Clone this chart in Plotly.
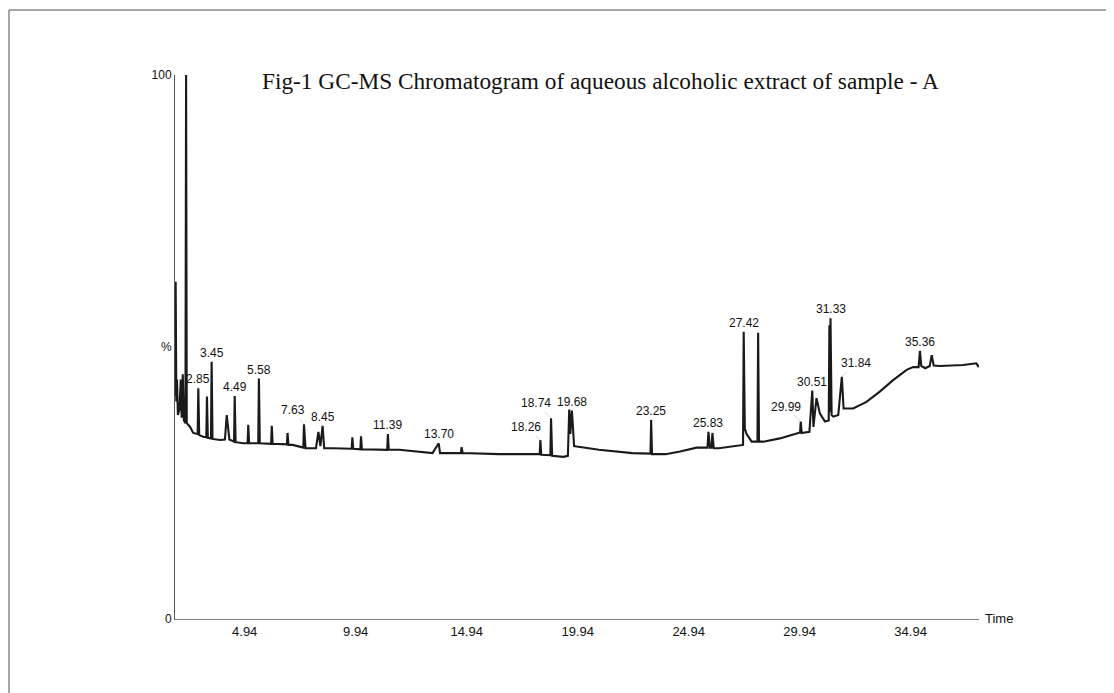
import plotly.graph_objects as go

# ---- data ----
trace_time = [
    1.80, 1.83, 1.86, 1.89, 1.93, 2.00, 2.06, 2.10, 2.15, 2.20, 2.27, 2.30, 2.33, 2.48, 2.62,
    2.82, 2.85, 2.89, 3.07, 3.21, 3.24, 3.28, 3.42, 3.45, 3.49, 3.83, 4.05, 4.13, 4.25, 4.46,
    4.49, 4.53, 4.88, 5.07, 5.10, 5.14, 5.55, 5.58, 5.62, 5.93, 6.13, 6.16, 6.20, 6.84, 6.87,
    6.91, 7.10, 7.58, 7.61, 7.68, 8.15, 8.26, 8.35, 8.45, 8.52, 8.90, 9.76, 9.79, 9.83, 10.15,
    10.18, 10.22, 11.36, 11.39, 11.43, 11.90, 13.40, 13.68, 13.74, 14.68, 14.71, 14.76, 16.40, 17.90,
    18.23, 18.26, 18.30, 18.71, 18.74, 18.79, 19.30, 19.50, 19.56, 19.61, 19.68, 19.78, 19.90, 20.90,
    22.40, 23.22, 23.25, 23.29, 23.90, 24.55, 25.30, 25.79, 25.83, 25.90, 25.97, 26.01, 26.07, 26.30,
    27.20, 27.39, 27.42, 27.47, 27.55, 27.78, 28.04, 28.07, 28.11, 28.30, 29.05, 29.80, 29.96, 29.99,
    30.03, 30.38, 30.51, 30.56, 30.70, 30.85, 31.08, 31.25, 31.28, 31.30, 31.33, 31.38, 31.46, 31.68,
    31.84, 31.92, 32.35, 32.95, 33.55, 34.15, 34.76, 35.05, 35.30, 35.36, 35.42, 35.60, 35.80, 35.89,
    35.98, 36.26, 37.30, 37.90, 38.01,
]
trace_pct = [
    41.0, 62.0, 40.0, 44.0, 37.5, 38.5, 44.0, 37.0, 45.0, 36.5, 36.0, 100.0, 36.0, 35.3, 34.2,
    34.0, 42.4, 33.8, 33.5, 33.4, 40.9, 33.3, 33.2, 47.3, 33.1, 32.9, 33.0, 37.5, 33.0, 32.6,
    41.0, 32.5, 32.3, 32.3, 35.7, 32.3, 32.3, 44.2, 32.3, 32.3, 32.2, 35.5, 32.2, 32.1, 34.2,
    32.0, 32.0, 31.5, 35.8, 31.4, 31.4, 34.4, 31.8, 35.5, 31.4, 31.4, 31.3, 33.4, 31.3, 31.2,
    33.6, 31.2, 31.1, 34.0, 31.1, 31.1, 30.5, 32.3, 30.5, 30.5, 31.6, 30.5, 30.3, 30.3,
    30.3, 32.9, 30.2, 30.1, 36.9, 30.0, 29.8, 30.0, 38.5, 34.0, 38.3, 31.8, 31.7, 31.1,
    30.5, 30.4, 36.6, 30.3, 30.3, 30.8, 31.5, 31.5, 34.4, 31.5, 31.5, 34.2, 31.4, 31.4,
    32.0, 32.0, 52.8, 35.0, 34.0, 32.6, 32.6, 52.6, 32.6, 32.6, 33.2, 34.1, 34.3, 36.3,
    34.2, 34.4, 42.0, 35.3, 40.6, 37.8, 36.3, 36.5, 54.0, 38.0, 55.3, 37.5, 37.2, 37.5,
    44.5, 38.7, 38.7, 39.9, 41.8, 43.9, 45.8, 46.3, 46.3, 49.3, 46.5, 46.1, 46.5, 48.5,
    46.6, 46.5, 46.7, 47.0, 46.3,
]

peak_labels = ["2.85", "3.45", "4.49", "5.58", "7.63", "8.45", "11.39", "13.70", "18.26", "18.74",
               "19.68", "23.25", "25.83", "27.42", "29.99", "30.51", "31.33", "31.84", "35.36"]
peak_time = [2.85, 3.45, 4.49, 5.58, 7.61, 8.45, 11.39, 13.68, 18.26, 18.74,
             19.68, 23.25, 25.83, 27.42, 29.99, 30.51, 31.33, 31.84, 35.36]
peak_pct = [42.4, 47.3, 41.0, 44.2, 35.8, 35.5, 34.0, 32.3, 32.9, 36.9,
            38.3, 36.6, 34.4, 52.8, 36.3, 42.0, 55.3, 44.5, 49.3]

x_tick_vals = [4.94, 9.94, 14.94, 19.94, 24.94, 29.94, 34.94]
y_tick_vals = [0, 50, 100]
y_tick_text = ["0", "%", "100"]

title_text = "Fig-1 GC-MS Chromatogram of aqueous alcoholic extract of sample - A"

# ---- styling ----
label_leaders = {  # label text offset (px) for labels drawn beside their peak
    "7.63": (-11, -14),
    "18.26": (-14, -13),
    "18.74": (-15, -15),
    "29.99": (-15, -15),
    "31.84": (14, -14),
}
label_font = dict(family="Liberation Sans, Arial", size=12, color="#111")

fig = go.Figure()
fig.add_trace(go.Scatter(
    x=trace_time, y=trace_pct, mode="lines",
    line=dict(color="#1a1a1a", width=2.1),
    hoverinfo="skip", showlegend=False,
))

annotations = []
for lab, t, p in zip(peak_labels, peak_time, peak_pct):
    if lab in label_leaders:
        ax, ay = label_leaders[lab]
        annotations.append(dict(
            x=t, y=p, xref="x", yref="y", text=lab, showarrow=True,
            ax=ax, ay=ay, arrowhead=0, arrowwidth=0.7, arrowcolor="#c8c8c8",
            standoff=0, startstandoff=0, font=label_font,
        ))
    else:
        annotations.append(dict(
            x=t, y=p, xref="x", yref="y", text=lab, showarrow=False,
            yanchor="bottom", yshift=0, font=label_font,
        ))

annotations.append(dict(
    x=1.0, y=0, xref="paper", yref="y", text="Time", showarrow=False,
    xanchor="left", yanchor="middle", xshift=4, yshift=1,
    font=dict(family="Liberation Sans, Arial", size=13, color="#111"),
))
annotations.append(dict(
    x=0.5, y=1.0, xref="paper", yref="paper", text=title_text, showarrow=False,
    xanchor="center", yanchor="middle", yshift=-6, xshift=23,
    font=dict(family="Liberation Serif, Times New Roman, serif", size=23.3, color="#111"),
))

# plot area in the page: x 175..979, y 75..619 (page has an 8px body margin)
fig.update_layout(
    width=1114, height=693,
    margin=dict(l=167, r=143, t=67, b=82),
    paper_bgcolor="white", plot_bgcolor="white",
    annotations=annotations,
    shapes=[
        dict(type="line", xref="paper", yref="paper", x0=-0.2065, x1=1.25, y0=1.1195, y1=1.1195,
             line=dict(color="#8a8a8a", width=1.5)),
        dict(type="line", xref="paper", yref="paper", x0=-0.2065, x1=-0.2065, y0=1.1195, y1=-0.25,
             line=dict(color="#8a8a8a", width=1.5)),
    ],
)
fig.update_xaxes(
    range=[1.80, 38.02], tickvals=x_tick_vals, ticktext=[f"{v:.2f}" for v in x_tick_vals],
    showgrid=False, zeroline=False, showline=True, linecolor="#7a7a7a", linewidth=1,
    ticks="",
    tickfont=dict(family="Liberation Sans, Arial", size=13, color="#111"),
)
fig.update_yaxes(
    range=[0, 100], tickvals=y_tick_vals, ticktext=y_tick_text,
    showgrid=False, zeroline=False, showline=True, linecolor="#555", linewidth=1,
    ticks="", tickfont=dict(family="Liberation Sans, Arial", size=12, color="#111"),
)

fig.write_html("out.html")
